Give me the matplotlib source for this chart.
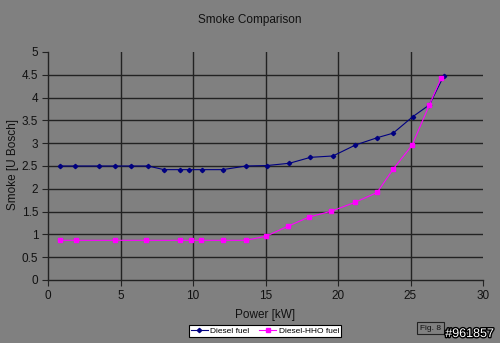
import matplotlib
matplotlib.use("Agg")
import matplotlib.pyplot as plt
import matplotlib.patheffects as pe

plt.rcParams['font.family'] = ['Liberation Sans', 'DejaVu Sans']

diesel_x = [0.8, 1.85, 3.5, 4.6, 5.75, 6.9, 8.0, 9.1, 9.7, 10.6, 12.05, 13.65, 15.1, 16.65, 18.1, 19.65, 21.2, 22.7, 23.8, 25.15, 26.3, 27.3]
diesel_y = [2.5, 2.5, 2.5, 2.5, 2.5, 2.5, 2.42, 2.42, 2.42, 2.42, 2.42, 2.5, 2.51, 2.56, 2.69, 2.72, 2.96, 3.12, 3.22, 3.58, 3.84, 4.48]

hho_x = [0.8, 1.9, 4.6, 6.75, 9.1, 9.85, 10.55, 12.05, 13.65, 15.05, 16.55, 18.0, 19.55, 21.15, 22.7, 23.8, 25.1, 26.3, 27.1]
hho_y = [0.87, 0.87, 0.87, 0.87, 0.87, 0.87, 0.87, 0.87, 0.87, 0.96, 1.18, 1.38, 1.51, 1.70, 1.92, 2.43, 2.95, 3.84, 4.42]

xticks = [0, 5, 10, 15, 20, 25, 30]
yticks = [0, 0.5, 1, 1.5, 2, 2.5, 3, 3.5, 4, 4.5, 5]
ytick_labels = ['0', '0.5', '1', '1.5', '2', '2.5', '3', '3.5', '4', '4.5', '5']

bg = '#808080'
fig = plt.figure(figsize=(5.0, 3.43), dpi=100, facecolor=bg)
ax = fig.add_axes([48/500, 1-280/343, 435/500, 228/343])
ax.set_facecolor(bg)

for v in [5, 10, 15, 20, 25]:
    ax.axvline(v, color='#222222', lw=1.0, zorder=1)
for h in [0.5, 1, 1.5, 2, 2.5, 3, 3.5, 4, 4.5]:
    ax.axhline(h, color='#222222', lw=1.0, zorder=1)

ax.plot(diesel_x, diesel_y, color='#000080', lw=0.8, marker='D', ms=2.2,
        mfc='#000080', mec='#000080', label='Diesel fuel', zorder=3)
ax.plot(hho_x, hho_y, color='#FF00FF', lw=0.8, marker='s', ms=3.2,
        mfc='#FF00FF', mec='#FF00FF', label='Diesel-HHO fuel', zorder=3)

ax.set_xlim(0, 30)
ax.set_ylim(0, 5)
ax.set_xticks(xticks)
ax.set_yticks(yticks)
ax.set_yticklabels(ytick_labels)
for s in ['top', 'right']:
    ax.spines[s].set_visible(False)
for s in ['left', 'bottom']:
    ax.spines[s].set_color('#222222')
    ax.spines[s].set_linewidth(1.0)
ax.tick_params(axis='both', direction='out', length=4, color='#222222',
               labelsize=8.5, labelcolor='#111111', pad=3)

fig.text(265/500, 1-315/343, 'Power [kW]', ha='center', va='center',
         fontsize=8.5, color='#111111')
fig.text(13/500, 1-165/343, 'Smoke [U Bosch]', ha='center', va='center',
         rotation=90, fontsize=8.5, color='#111111')
fig.text(0.5, 1-20/343, 'Smoke Comparison', ha='center', va='center',
         fontsize=8.5, color='#111111')

leg = fig.legend(loc='center', bbox_to_anchor=(265/500, 1-331/343), ncol=2,
                 fontsize=6, frameon=True, fancybox=False, edgecolor='black',
                 facecolor='white', framealpha=1, handlelength=2.0,
                 borderpad=0.25, columnspacing=1.2, handletextpad=0.3)
leg.get_frame().set_linewidth(0.8)

fig.text(420/500, 1-328/343, 'Fig. 8', fontsize=6, color='#111111', va='center',
         bbox=dict(boxstyle='square,pad=0.35', fc=bg, ec='#222222', lw=0.8))
fig.text(494/500, 1-334/343, '#961857', fontsize=9, color='white', ha='right',
         va='center', path_effects=[pe.withStroke(linewidth=2, foreground='black')])

fig.savefig('out.png', dpi=100, facecolor=bg)
